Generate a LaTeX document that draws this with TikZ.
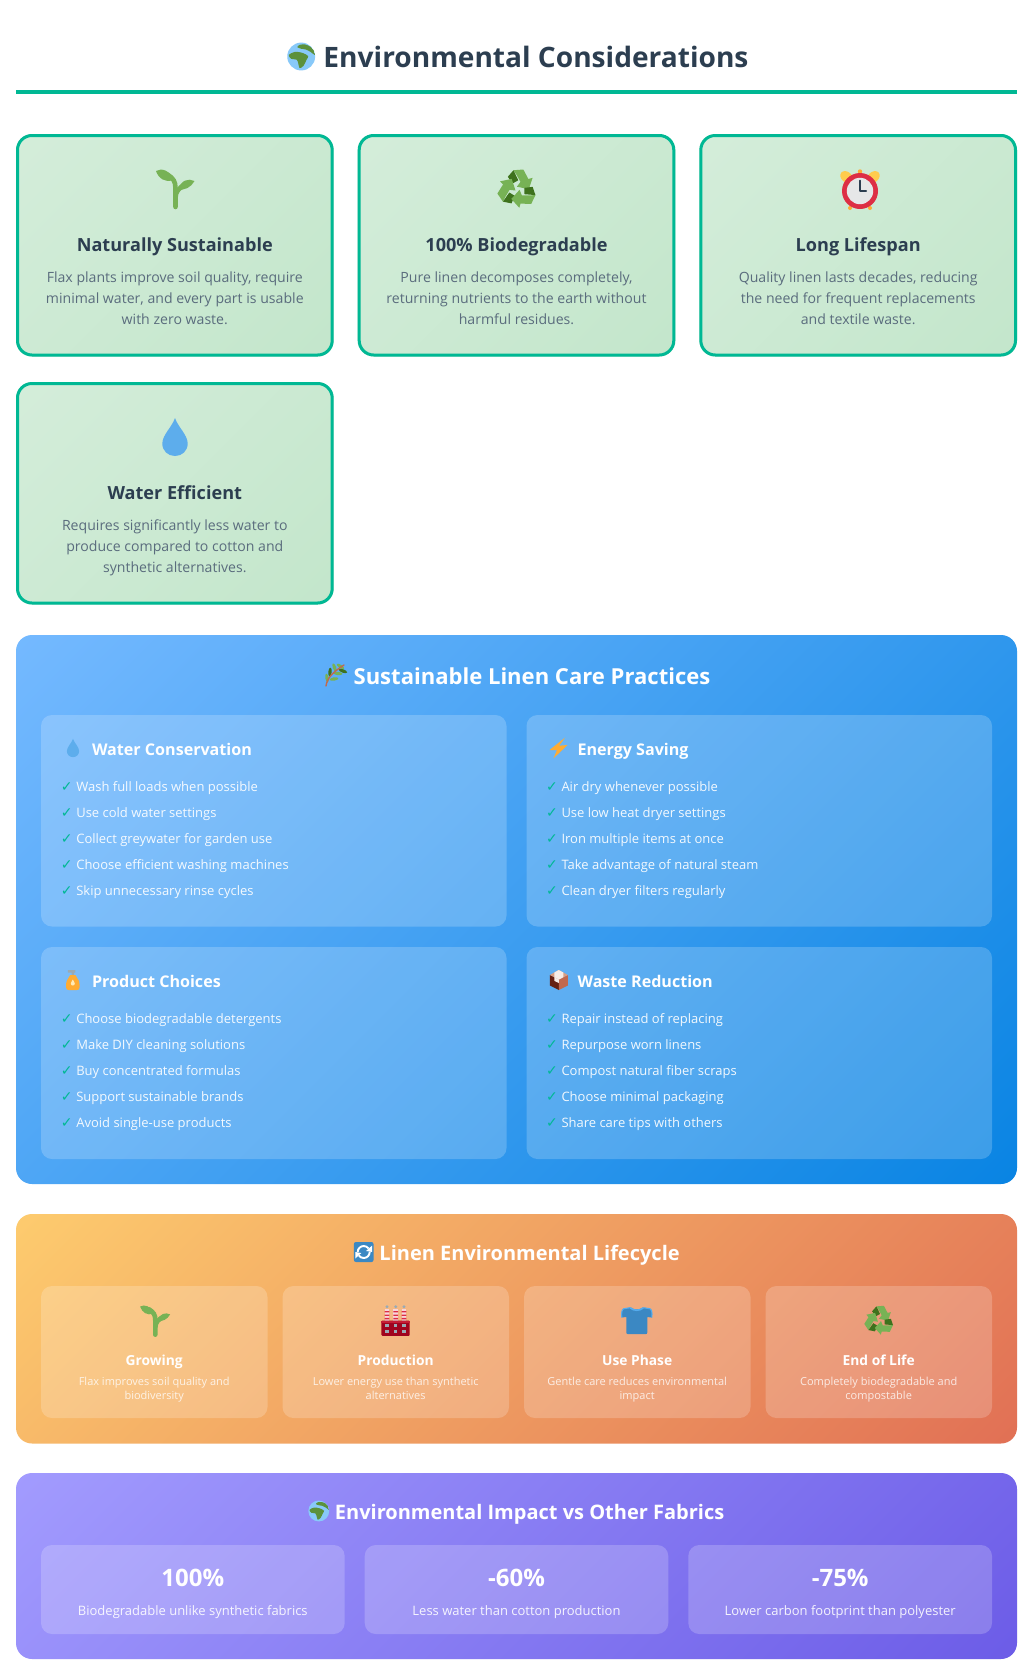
\documentclass[tikz,border=0pt]{standalone}
\usepackage{fontspec}
\setmainfont{Open Sans}
\newfontfamily\chkfont{DejaVu Sans}
\usetikzlibrary{calc}
\definecolor{ink}{HTML}{2C3E50}
\definecolor{slate}{HTML}{5A6C7D}
\definecolor{teal}{HTML}{00B894}
\definecolor{gA}{HTML}{D4EDDA}\definecolor{gB}{HTML}{C3E6CB}
\definecolor{bA}{HTML}{74B9FF}\definecolor{bB}{HTML}{0984E3}
\definecolor{oA}{HTML}{FDCB6E}\definecolor{oB}{HTML}{E17055}
\definecolor{pA}{HTML}{A29BFE}\definecolor{pB}{HTML}{6C5CE7}
\definecolor{leaf}{HTML}{77B255}\definecolor{darkleaf}{HTML}{3E721D}
\definecolor{water}{HTML}{5DADEC}\definecolor{sky}{HTML}{88C9F9}\definecolor{land}{HTML}{5C913B}
\definecolor{shirt}{HTML}{3B88C3}\definecolor{collar}{HTML}{55ACEE}
\definecolor{amber}{HTML}{FFAC33}\definecolor{gold}{HTML}{FFCC4D}
\definecolor{ruby}{HTML}{DD2E44}\definecolor{crim}{HTML}{A0041E}\definecolor{steel}{HTML}{99AAB5}
\definecolor{bark}{HTML}{C1694F}\definecolor{cocoa}{HTML}{662113}\definecolor{tan}{HTML}{D99E82}
\definecolor{dial}{HTML}{E6E7E8}
\pgfdeclarehorizontalshading{greengrad}{100bp}{color(0bp)=(gA);color(32.32bp)=(gA);color(67.68bp)=(gB);color(100bp)=(gB)}
\pgfdeclarehorizontalshading{bluegrad}{100bp}{color(0bp)=(bA);color(32.32bp)=(bA);color(67.68bp)=(bB);color(100bp)=(bB)}
\pgfdeclarehorizontalshading{orangegrad}{100bp}{color(0bp)=(oA);color(32.32bp)=(oA);color(67.68bp)=(oB);color(100bp)=(oB)}
\pgfdeclarehorizontalshading{purplegrad}{100bp}{color(0bp)=(pA);color(32.32bp)=(pA);color(67.68bp)=(pB);color(100bp)=(pB)}
% gradient box following the CSS 135deg rule
\newcommand{\gradbox}[6]{%
  \pgfmathsetmacro{\gcx}{(#1+#3)/2}\pgfmathsetmacro{\gcy}{(#2+#4)/2}%
  \pgfmathsetmacro{\ghs}{(#3-#1+#4-#2)/2}%
  \begin{scope}
    \clip[rounded corners=#6] (#1,#2) rectangle (#3,#4);
    \shade[shading=#5,shading angle=-45] (\gcx-\ghs,\gcy-\ghs) rectangle (\gcx+\ghs,\gcy+\ghs);
  \end{scope}}
\newcommand{\greencard}[4]{%
  \gradbox{#1}{#2}{#3}{#4}{greengrad}{16}%
  \draw[teal,line width=3,rounded corners=14.5] (#1+1.5,#2+1.5) rectangle (#3-1.5,#4-1.5);}
\newcommand{\glass}[5]{\fill[white,fill opacity=#5,rounded corners=11] (#1,#2) rectangle (#3,#4);}
\newcommand{\tick}[4]{%
  \node[chk] (#1c) at (#2-9.6,#4) {\chkfont\bfseries ✓};
  \node[itemtxt] (#1t) at (#2,#4) {#3};}
\tikzset{
  base/.style={inner sep=0,outer sep=0,anchor=base},
  maintitle/.style={base,text=ink,font=\fontsize{28.1}{34}\selectfont\bfseries},
  cardtitle/.style={base,text=ink,font=\fontsize{18.1}{24}\selectfont\bfseries},
  cardtxt/.style={base,text=slate,font=\fontsize{14.1}{21}\selectfont},
  paneltitle/.style={base,text=white,font=\fontsize{22.05}{28}\selectfont\bfseries},
  smalltitle/.style={base,text=white,font=\fontsize{20}{28}\selectfont\bfseries},
  subtitle/.style={base,text=white,font=\fontsize{16.1}{22}\selectfont\bfseries},
  itemtxt/.style={base,anchor=base west,text=white,text opacity=.92,font=\fontsize{13}{18}\selectfont},
  chk/.style={base,text=teal,font=\fontsize{14}{16}\selectfont},
  lifetitle/.style={base,text=white,font=\fontsize{13.8}{19}\selectfont\bfseries},
  lifetxt/.style={base,text=white,text opacity=.8,font=\fontsize{11}{14}\selectfont},
  stattitle/.style={base,text=white,font=\fontsize{24}{30}\selectfont\bfseries},
  stattxt/.style={base,text=white,text opacity=.9,font=\fontsize{13}{18}\selectfont},
  sprout/.pic={
    \draw[leaf,line width=4.6,line cap=round] (0,17.5) -- (0,-1) .. controls (0,-8) and (-2,-11) .. (-8,-15);
    \draw[leaf,line width=4.6] (0,8) .. controls (0,2) and (4,-2) .. (9,-4.5);
    \fill[leaf] (-19.5,-18.5) .. controls (-14,-22) and (-5,-19) .. (-3,-9.5) .. controls (-10,-6.5) and (-17,-11) .. cycle;
    \fill[leaf] (19,-8.5) .. controls (13,-11.5) and (5.5,-9.5) .. (2.5,0) .. controls (9,1) and (15.5,-2) .. cycle;
  },
  recycle/.pic={
    \foreach \a in {0,120,240}{
      \begin{scope}[rotate=\a]
        \fill[leaf] (-3.6,-17.7) -- (5.7,-18.4) -- (10.4,-9.5) -- (14.4,-10.5) -- (10.9,0.2) -- (-0.4,-2.2) -- (3,-6.7) -- (-0.7,-13.3) -- cycle;
        \fill[darkleaf] (-9,-11.5) -- (-3.6,-17.7) -- (0.9,-8.2) -- (-4.3,-5.3) -- cycle;
      \end{scope}}
  },
  alarmclock/.pic={
    \fill[gold,rotate around={-40:(-13.5,-14)}] (-13.5,-14) ellipse (6.8 and 5.2);
    \fill[gold,rotate around={40:(13.5,-14)}] (13.5,-14) ellipse (6.8 and 5.2);
    \fill[amber] (0,-19.5) circle (2.2);
    \fill[amber] (-10,17) circle (2) (10,17) circle (2);
    \fill[ruby] (0,0) circle (18);
    \fill[dial] (0,0) circle (13.2);
    \draw[ink,line width=2,line cap=round,line join=round] (0,-10.5) -- (0,0) -- (6,0);
  },
  droplet/.pic={
    \fill[water] (0,-19) .. controls (-3,-10) and (-12.7,-2) .. (-12.7,6.5) .. controls (-12.7,14) and (-7,19) .. (0,19) .. controls (7,19) and (12.7,14) .. (12.7,6.5) .. controls (12.7,-2) and (3,-10) .. (0,-19) -- cycle;
  },
  globe/.pic={
    \fill[sky] (0,0) circle (18);
    \begin{scope}
      \clip (0,0) circle (18);
      \fill[land] plot[smooth cycle,tension=.5] coordinates {(-5,-12) (-2,-15) (5,-15.5) (12,-12.5) (16.5,-7) (17.5,-2) (12,-6) (6,-9) (0,-10)};
      \fill[land] plot[smooth cycle,tension=.5] coordinates {(-16,-2) (-8,-6) (2,-4.5) (9,-0.5) (7,4) (3,12) (-2,15) (-4,8) (-6,4) (-13,3)};
    \end{scope}
  },
  herb/.pic={
    \foreach \p/\r/\c in {(5.5,-8.5)/-35/leaf,(8,-4)/-20/darkleaf,(-0.5,-7.5)/-70/leaf,(3,-1.5)/-5/leaf,(-5,-3)/-95/darkleaf,(-1,4)/10/leaf,(-8,3)/-80/leaf}{
      \fill[\c,rotate around={\r:\p}] \p ellipse (4.4 and 1.7);
    }
    \draw[bark,line width=1.4,line cap=round] (-9,11) .. controls (-8,3) and (-2,-3) .. (9,-10);
  },
  bolt/.pic={
    \fill[amber] (6.5,-10.3) -- (-9,2) -- (-1.5,2) -- (-5,10.3) -- (9,-3) -- (0.6,-2.3) -- cycle;
  },
  bottle/.pic={
    \fill[steel] (-5,-10) -- (2.5,-10) -- (2.5,-7.5) -- (1.2,-7.5) -- (1.2,-4) -- (-1.2,-4) -- (-1.2,-7.5) -- (-5,-7.5) -- cycle;
    \fill[amber] (-2.6,-5) -- (2.6,-5) .. controls (3,-2) and (6.7,-1) .. (6.7,4) -- (6.7,7.5) .. controls (6.7,9.5) and (5.5,10) .. (4,10) -- (-4,10) .. controls (-5.5,10) and (-6.7,9.5) .. (-6.7,7.5) -- (-6.7,4) .. controls (-6.7,-1) and (-3,-2) .. (-2.6,-5) -- cycle;
    \fill[gold!40!white] (0,-0.5) .. controls (-0.5,1) and (-2,2) .. (-2,3.5) .. controls (-2,5) and (-1,5.5) .. (0,5.5) .. controls (1,5.5) and (2,5) .. (2,3.5) .. controls (2,2) and (0.5,1) .. (0,-0.5) -- cycle;
  },
  parcel/.pic={
    \fill[cocoa] (-9,-5) -- (0,-0.5) -- (0,10) -- (-9,5.5) -- cycle;
    \fill[bark] (9,-5) -- (0,-0.5) -- (0,10) -- (9,5.5) -- cycle;
    \fill[tan] (0,-10) -- (9,-5) -- (0,-0.5) -- (-9,-5) -- cycle;
    \fill[white!80!tan] (-4.5,-7.5) -- (0,-10) -- (4.5,-7.5) -- (4.5,-2.8) -- (-0,-0.5) -- (-4.5,-2.8) -- cycle;
    \fill[white!80!tan] (-4.5,-2.8) -- (0,-0.5) -- (0,3) -- (-4.5,0.8) -- cycle;
  },
  refresh/.pic={
    \fill[shirt,rounded corners=2] (-9.8,-10) rectangle (9.8,10);
    \draw[white,line width=1.9] (-6,0) arc (180:325:6);
    \draw[white,line width=1.9] (6,0) arc (0:145:6);
    \fill[white] (8.4,-6.5) -- (8.4,0) -- (2.4,-1) -- cycle;
    \fill[white] (-8.4,6.5) -- (-8.4,0) -- (-2.4,1) -- cycle;
  },
  factory/.pic={
    \foreach \x in {-8.7,0,8.3}{
      \fill[white!80!ruby] (\x-2.3,-11.5) rectangle (\x+2.3,0);
      \fill[ruby] (\x-2.3,-9.5) rectangle (\x+2.3,-8.2) (\x-2.3,-6) rectangle (\x+2.3,-4.6) (\x-2.3,-2.6) rectangle (\x+2.3,-1.2);
      \fill[steel] (\x,-13.8) circle (1.6);
    }
    \fill[crim,rounded corners=1] (-14.3,0) rectangle (14,15.3);
    \fill[ruby!60!crim] (-14.3,0.6) rectangle (14,2.4);
    \foreach \x in {-8.7,0,8.3}\foreach \y in {5.3,11.3}{\fill[steel] (\x-1.6,\y-1.6) rectangle (\x+1.6,\y+1.6);}
  },
  tshirt/.pic={
    \fill[shirt] (-6,-13) .. controls (-3,-10.5) and (3,-10.5) .. (6,-13) -- (13,-12) .. controls (15,-11) and (15.5,-8) .. (15,-3) -- (10.5,-3.5) -- (10.5,12) .. controls (10.5,13.5) and (9.5,13.5) .. (9,13.5) -- (-9,13.5) .. controls (-9.5,13.5) and (-10.5,13.5) .. (-10.5,12) -- (-10.5,-3.5) -- (-15,-3) .. controls (-15.5,-8) and (-15,-11) .. (-13,-12) -- cycle;
    \draw[collar,line width=1.6] (-6.5,-12.6) .. controls (-3,-9.5) and (3,-9.5) .. (6.5,-12.6);
    \draw[collar,line width=1.1] (-6.5,-12.8) -- (-13,-11.8) .. controls (-15,-11) and (-15.5,-8) .. (-15,-3);
    \draw[collar,line width=1.1] (6.5,-12.8) -- (13,-11.8) .. controls (15,-11) and (15.5,-8) .. (15,-3);
  },
}
\begin{document}
\begin{tikzpicture}[x=1pt,y=-1pt]
\useasboundingbox (0,0) rectangle (1032,1674);
\fill[white] (0,0) rectangle (1032,1674);
% ---- header
\pic[scale=.775] at (301.2,56.5) {globe};
\node[maintitle] (mt) at (536,67.3) {Environmental Considerations};
\fill[teal] (16,90) rectangle (1017,94);
% ---- feature cards
\greencard{16}{134}{333.7}{356.5}
\greencard{357.7}{134}{675.3}{356.5}
\greencard{699.3}{134}{1017}{356.5}
\greencard{16}{382}{333.7}{604.5}
\pic at (175.5,189.5) {sprout};
\pic[scale=1.06] at (517.3,189) {recycle};
\pic at (860,191) {alarmclock};
\pic at (175,437) {droplet};
\node[cardtitle] (c1) at (174.8,251) {Naturally Sustainable};
\node[cardtxt] (c1a) at (174.8,282) {Flax plants improve soil quality, require};
\node[cardtxt] (c1b) at (174.8,303) {minimal water, and every part is usable};
\node[cardtxt] (c1c) at (174.8,324) {with zero waste.};
\node[cardtitle] (c2) at (516.5,251) {100\% Biodegradable};
\node[cardtxt] (c2a) at (516.5,282) {Pure linen decomposes completely,};
\node[cardtxt] (c2b) at (516.5,303) {returning nutrients to the earth without};
\node[cardtxt] (c2c) at (516.5,324) {harmful residues.};
\node[cardtitle] (c3) at (858.2,251) {Long Lifespan};
\node[cardtxt] (c3a) at (858.2,282) {Quality linen lasts decades, reducing};
\node[cardtxt] (c3b) at (858.2,303) {the need for frequent replacements};
\node[cardtxt] (c3c) at (858.2,324) {and textile waste.};
\node[cardtitle] (c4) at (174.8,499.5) {Water Efficient};
\node[cardtxt] (c4a) at (174.8,530) {Requires significantly less water to};
\node[cardtxt] (c4b) at (174.8,551) {produce compared to cotton and};
\node[cardtxt] (c4c) at (174.8,572) {synthetic alternatives.};
% ---- care practices
\gradbox{16}{635}{1017}{1184}{bluegrad}{16}
\pic at (335,675) {herb};
\node[paneltitle] (pt1) at (532,684.5) {Sustainable Linen Care Practices};
\glass{41}{715}{506.5}{926.5}{.2}
\glass{526.5}{715}{992}{926.5}{.2}
\glass{41}{947}{506.5}{1159}{.2}
\glass{526.5}{947}{992}{1159}{.2}
\pic[scale=.48] at (73,748) {droplet};
\pic at (558.5,748) {bolt};
\pic at (72.8,980) {bottle};
\pic at (558.8,980) {parcel};
\node[subtitle,anchor=base west] (s1) at (92,755.3) {Water Conservation};
\node[subtitle,anchor=base west] (s2) at (577.5,755.3) {Energy Saving};
\node[subtitle,anchor=base west] (s3) at (92,987.3) {Product Choices};
\node[subtitle,anchor=base west] (s4) at (577.5,987.3) {Waste Reduction};
\tick{a1}{76.3}{Wash full loads when possible}{791.9}
\tick{a2}{76.3}{Use cold water settings}{817.9}
\tick{a3}{76.3}{Collect greywater for garden use}{843.9}
\tick{a4}{76.3}{Choose efficient washing machines}{869.9}
\tick{a5}{76.3}{Skip unnecessary rinse cycles}{895.9}
\tick{b1}{561.5}{Air dry whenever possible}{791.9}
\tick{b2}{561.5}{Use low heat dryer settings}{817.9}
\tick{b3}{561.5}{Iron multiple items at once}{843.9}
\tick{b4}{561.5}{Take advantage of natural steam}{869.9}
\tick{b5}{561.5}{Clean dryer filters regularly}{895.9}
\tick{d1}{76.3}{Choose biodegradable detergents}{1023.9}
\tick{d2}{76.3}{Make DIY cleaning solutions}{1049.9}
\tick{d3}{76.3}{Buy concentrated formulas}{1075.9}
\tick{d4}{76.3}{Support sustainable brands}{1101.9}
\tick{d5}{76.3}{Avoid single-use products}{1127.9}
\tick{e1}{561.5}{Repair instead of replacing}{1023.9}
\tick{e2}{561.5}{Repurpose worn linens}{1049.9}
\tick{e3}{561.5}{Compost natural fiber scraps}{1075.9}
\tick{e4}{561.5}{Choose minimal packaging}{1101.9}
\tick{e5}{561.5}{Share care tips with others}{1127.9}
% ---- lifecycle
\gradbox{16}{1214}{1017}{1443.5}{orangegrad}{16}
\pic at (363.7,1252) {refresh};
\node[smalltitle] (pt2) at (529.6,1260.8) {Linen Environmental Lifecycle};
\glass{41}{1286}{267.5}{1418}{.2}
\glass{282.5}{1286}{509}{1418}{.2}
\glass{524}{1286}{750.5}{1418}{.2}
\glass{765.5}{1286}{992}{1418}{.2}
\pic[scale=.78] at (155.3,1321) {sprout};
\pic[scale=.8] at (879.3,1320.5) {recycle};
\pic at (395.7,1320.5) {factory};
\pic at (636.8,1320.5) {tshirt};
\node[lifetitle] (l1) at (154.2,1365) {Growing};
\node[lifetitle] (l2) at (395.7,1365) {Production};
\node[lifetitle] (l3) at (637.2,1365) {Use Phase};
\node[lifetitle] (l4) at (878.7,1365) {End of Life};
\node[lifetxt] (l1a) at (154.2,1385) {Flax improves soil quality and};
\node[lifetxt] (l1b) at (154.2,1399) {biodiversity};
\node[lifetxt] (l2a) at (395.7,1385) {Lower energy use than synthetic};
\node[lifetxt] (l2b) at (395.7,1399) {alternatives};
\node[lifetxt] (l3a) at (637.2,1385) {Gentle care reduces environmental};
\node[lifetxt] (l3b) at (637.2,1399) {impact};
\node[lifetxt] (l4a) at (878.7,1385) {Completely biodegradable and};
\node[lifetxt] (l4b) at (878.7,1399) {compostable};
% ---- impact
\gradbox{16}{1473}{1017}{1659}{purplegrad}{16}
\pic[scale=.58] at (318.8,1511) {globe};
\node[smalltitle] (pt3) at (529.6,1519.3) {Environmental Impact vs Other Fabrics};
\glass{41}{1545}{344.7}{1634}{.2}
\glass{364.7}{1545}{668.3}{1634}{.2}
\glass{688.3}{1545}{992}{1634}{.2}
\node[stattitle] (n1) at (192.8,1586) {100\%};
\node[stattitle] (n2) at (516.5,1586) {-60\%};
\node[stattitle] (n3) at (840.2,1586) {-75\%};
\node[stattxt] (n1a) at (192.8,1615) {Biodegradable unlike synthetic fabrics};
\node[stattxt] (n2a) at (516.5,1615) {Less water than cotton production};
\node[stattxt] (n3a) at (840.2,1615) {Lower carbon footprint than polyester};
\end{tikzpicture}
\end{document}
